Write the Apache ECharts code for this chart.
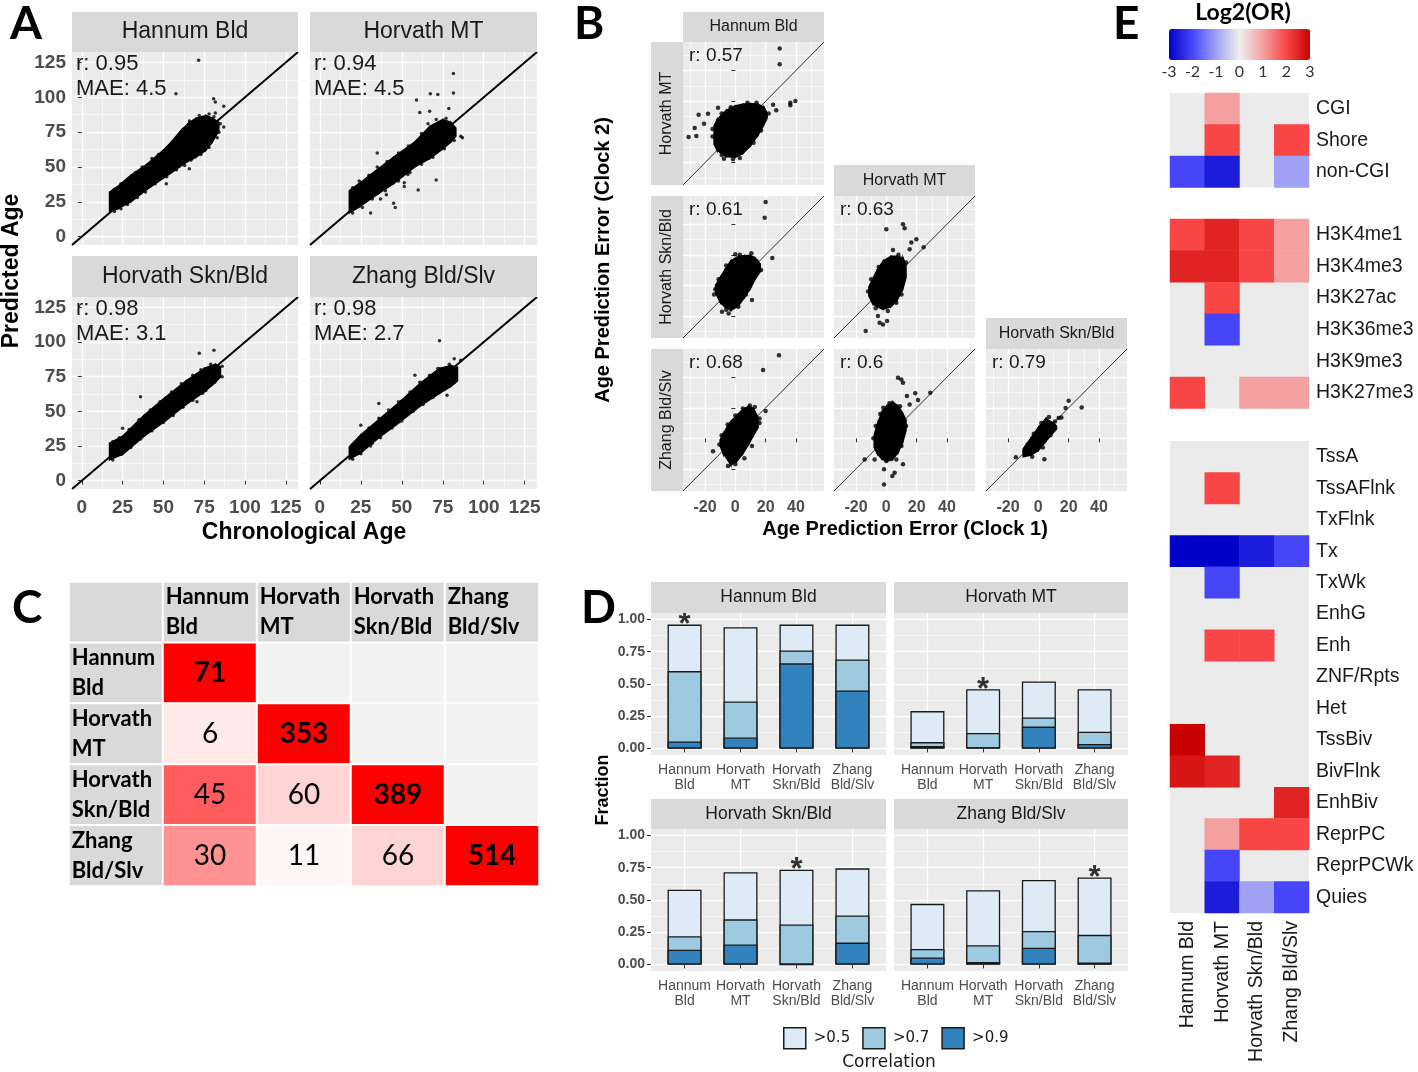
<!DOCTYPE html>
<html><head><meta charset="utf-8">
<script src="https://cdn.jsdelivr.net/npm/echarts@6/dist/echarts.min.js"></script>
<style>html,body{margin:0;padding:0;background:#fff}#c{width:1418px;height:1072px}</style>
</head><body><div id="c"></div>
<script>
// ================= DATA =================
const clocks = ['Hannum Bld','Horvath MT','Horvath Skn/Bld','Zhang Bld/Slv'];
const clocksTwoLine = ['Hannum\nBld','Horvath\nMT','Horvath\nSkn/Bld','Zhang\nBld/Slv'];

// ---- Panel A : predicted vs chronological age ----
const aTicks = [0,25,50,75,100,125];
const aR = ['0.95','0.94','0.98','0.98'];
const aMAE = ['4.5','4.5','3.1','2.7'];
// dense cloud envelope: [age, lowest predicted, highest predicted]
const aBandHannum = [[17,18,32],[22,20,36],[30,25,44],[40,34,52],[50,42,62],[55,46,68],[60,50,75],[65,54,81],[70,57,85],[76,62,87],[80,68,85],[84,76,82]];
const aBandMT     = [[18,17,33],[25,22,39],[36,31,49],[45,38,57],[58,50,68],[67,56,79],[75,63,84],[80,68,82],[83,72,78]];
const aBandSkn    = [[17,15,27],[25,19,32],[38,32,47],[51,43,60],[64,55,72],[75,64,81],[82,71,84],[85,75,82]];
const aBandZhang  = [[18,15.5,24.5],[25,20,33],[36,31,44],[49,42.5,57],[62,54.5,71],[73,63,81],[80,68,83],[84,72,82]];
// individual samples outside / at the edge of the cloud
const aPtsHannum = [[71.6,126.5],[57.7,102.6],[80.8,99],[81.8,96.6],[87,93.5],[81.8,88.7],[84.9,81],[87,78.7],[84,75],[51.8,38],[65.9,48.8],[20.5,20],
  [20,34],[24,38],[28,41],[33,46],[37,50],[43,56],[47,59],[53,64],[57,69],[62,77],[66,83],[72,87],[78,88],[81,86],
  [20,18],[24,20],[28,23],[34,28],[39,32],[45,38],[52,43],[58,48],[63,51],[67,55],[73,59],[78,64],[83,71]];
const aPtsMT = [[81.5,117],[67.4,102.6],[72,102],[81.5,103],[59,98],[78.7,92],[61,89],[67,90],[86,72],[87,71],[71,40.6],
  [35,60],[51.5,36],[60,33.4],[40.6,30],[45,24],[46,21],[31,17],[51.5,38.7],[37,27],[53.7,44.6],
  [20,35],[24,40],[30,44],[35,50],[41,54],[48,60],[54,65],[62,74],[66,81],[71,84],[77,85],
  [20,17],[26,21],[32,27],[40,33],[48,40],[55,46],[62,52],[69,57],[76,63],[82,69]];
const aPtsSkn = [[36,60.5],[72,92],[81,94],[86,82.5],[86,75],[70.6,57],[76,65],[25,37.8],
  [19,28],[23,31],[29,37],[35,44],[42,51],[48,57],[55,64],[61,70],[68,76],[73,80],[79,84],
  [19,15],[24,19],[30,24],[36,30],[43,36],[50,42],[56,47],[62,53],[68,58],[74,63],[80,70]];
const aPtsZhang = [[73,101],[36,55.7],[25,40],[58,76],[77.6,61.7],[86,86.8],[82,88],[32,27],
  [20,26],[24,31],[30,38],[36,45],[42,51],[48,57],[55,64],[61,71],[67,76],[72,81],[79,84],
  [20,15.5],[25,19.5],[31,25],[37,31],[44,38],[50,43],[57,50],[63,55],[69,60],[76,66],[82,71]];

// ---- Panel B : age prediction error, clock 1 (x) vs clock 2 (y) ----
const bTicks = [-20,0,20,40];
const bR = ['0.57','0.61','0.63','0.68','0.6','0.79'];
const bBandHanMT   = [[-14,-8,4],[-12,-12,8],[-6,-16,14],[0,-16.5,17],[5,-14,18],[10,-9,18.5],[15,-2,18],[19,5,16],[21,9,12]];
const bBandHanSkn  = [[-13,-5,0],[-10,-11,5],[-7,-14,10],[-3,-16.5,16],[2,-13.5,19],[6,-8,19.5],[10,-2,19.5],[13,4,18],[16.5,9,14]];
const bBandMTSkn   = [[-11.5,-7,-1],[-9,-12,4],[-6,-14,10],[-2,-15.7,16],[3,-14,19],[7,-10,19],[11,-2,18],[13,5,13]];
const bBandHanZh   = [[-10,-5,-1],[-8,-10,3],[-5,-14,8],[-3,-17.5,11],[1,-15,15],[5,-10,19],[9,-3.5,21],[12,2,19.5],[15,7,13.5]];
const bBandMTZh    = [[-8,-6,2],[-6,-10,9],[-3,-13.5,17],[0,-15,21],[4,-14,24],[8,-9,21],[11,-2,16],[13,5,12]];
const bBandSknZh   = [[-10,-12,-7],[-5,-11,0],[0,-8,7],[5,-2,13],[10,4,10],[12,6,8]];
const bPtsHanMT  = [[29.3,54.2],[29.3,44],[36.3,19],[39.6,20.1],[36.3,17.3],[-30.8,-3.3],[-25.7,-2.6],[-26.8,2.6],[-24.2,11.2],
  [-18,11.9],[-20.6,5.4],[-11.4,15.8],[-7.5,-17.4],[-1.5,-17.8],[24.9,17.7],[27,14.1],[-15,-3],[-15,2],[-9,-15],
  [3,-17],[12,-7],[17,1],[-9,12],[-3,16],[8,19],[14,19],[22,12]];
const bPtsHanSkn = [[20,54.6],[19.4,44.3],[24.4,17.9],[-8.8,-17.3],[-4.4,-18.4],[11,-9.6],[0,20.3],[10.6,21],[-13.2,-2.6],
  [-14,-6],[-11,4],[-6,13],[3,20],[14,16],[17,10],[7,-6],[2,-14],[-6,-16]];
const bPtsMTSkn  = [[0,36.7],[11,40],[12.1,37.3],[19.8,30.1],[16.5,28],[15.4,23.6],[24.6,25],[4.4,23.1],[-13.6,-29.9],
  [-5.5,-20.1],[-4.4,-24.5],[-2.2,-25.6],[0.5,-23.4],[6.6,-11.4],[1,-16.8],[-12,-4],[-10,4],[-5,12],[8,20],[13,15],[10,-6],[-7,-15]];
const bPtsHanZh  = [[28.8,54.4],[18.3,44.7],[20,17.9],[16,13],[-14.7,-8.5],[-4.8,-18.1],[9.6,21.5],[12.9,20.5],[-10.5,-4],
  [-9,2],[-5,9],[0,15],[5,19.5],[16,10],[11,-5],[6,-13],[0,-17]];
const bPtsMTZh   = [[7.7,39.7],[9.9,38.6],[11,36.4],[13.6,27.7],[19.1,29.5],[20.9,25.1],[15.4,22.2],[29,29.9],[-14.3,-13.8],
  [-7.7,-13.8],[0,-14.9],[6.6,-13.8],[-1.5,-20.3],[-1.5,-30.2],[4,-24.7],[5.5,-22.5],[11,-17],[4.2,22.6],[-2,20],
  [-8.5,0],[-7,8],[-4,16],[2,23],[9,21],[13,8],[10,-5]];
const bPtsSknZh  = [[20,24.6],[18,19.8],[28.6,20.2],[13.4,13.3],[15.2,13.7],[-14.8,-12.4],[4,-13.7],[-9,-9],[-7,-4],[-3,3],
  [2,10],[7,14],[11,11],[8,2],[3,-6],[-4,-12]];

// ---- Panel C : overlap of CpGs between clocks ----
const cCounts = [[71,null,null,null],[6,353,null,null],[45,60,389,null],[30,11,66,514]];

// ---- Panel D : fraction of clock CpGs above correlation thresholds ----
const dLevels = ['>0.5','>0.7','>0.9'];
const dOver05 = [[0.96,0.94,0.96,0.96],[0.29,0.46,0.52,0.46],[0.58,0.715,0.735,0.745],[0.47,0.575,0.655,0.675]];
const dOver07 = [[0.60,0.365,0.76,0.69],[0.05,0.12,0.24,0.13],[0.22,0.35,0.31,0.38],[0.12,0.15,0.26,0.23]];
const dOver09 = [[0.055,0.085,0.66,0.45],[0.02,0.01,0.17,0.035],[0.115,0.155,0.0,0.17],[0.055,0.02,0.13,0.015]];
const dStar = [0,1,2,3];
const dTicks = [0,0.25,0.5,0.75,1];

// ---- Panel E : Log2(OR) enrichment ----
const eScaleTicks = [-3,-2,-1,0,1,2,3];
const eRows1 = ['CGI','Shore','non-CGI'];
const eVals1 = [[null,1,null,null],[null,2,null,2],[-2,-2.6,null,-1]];
const eRows2 = ['H3K4me1','H3K4me3','H3K27ac','H3K36me3','H3K9me3','H3K27me3'];
const eVals2 = [[2,2.5,2,1],[2.5,2.5,2,1],[null,2,null,null],[null,-2,null,null],[null,null,null,null],[2,null,1,1]];
const eRows3 = ['TssA','TssAFlnk','TxFlnk','Tx','TxWk','EnhG','Enh','ZNF/Rpts','Het','TssBiv','BivFlnk','EnhBiv','ReprPC','ReprPCWk','Quies'];
const eVals3 = [[null,null,null,null],[null,2,null,null],[null,null,null,null],[-3,-3,-2.6,-2],[null,-2,null,null],
  [null,null,null,null],[null,2,2,null],[null,null,null,null],[null,null,null,null],[3,null,null,null],
  [2.7,2.5,null,null],[null,null,null,2.5],[null,1,2,2],[null,-2,null,null],[null,-2.6,-1,-2]];

// ================= BUILD =================
const FONT = '"Liberation Sans", Arial, sans-serif';
const CAL = 'Lato, "Open Sans", sans-serif';
const grids = [], xAxis = [], yAxis = [], series = [], graphic = [];

function addGrid(l, t, w, h, bg, show) {
  grids.push({left: l, top: t, width: w, height: h, show: show !== false, backgroundColor: bg || '#ebebeb',
    borderWidth: 0, containLabel: false, outerBoundsMode: 'none'});
  return grids.length - 1;
}
function inList(v, list) { return list.some(t => Math.abs(t - v) < 1e-6); }
function valAxis(gi, min, max, step, ticks, showLab, lab, minor) {
  return {type: 'value', gridIndex: gi, min: min, max: max, minInterval: step, maxInterval: step, splitNumber: 5,
    axisLine: {show: false},
    axisTick: {show: showLab, length: 4, lineStyle: {color: '#333', width: 1}, customValues: ticks},
    axisLabel: Object.assign({show: showLab, customValues: ticks, color: '#4d4d4d', fontFamily: FONT, hideOverlap: false}, lab),
    splitLine: {show: true, lineStyle: {color: '#fff', width: 1.3}},
    minorTick: {show: false, splitNumber: 2},
    minorSplitLine: {show: minor !== false, lineStyle: {color: '#fff', width: 0.6}}
  };
}
function txt(x, y, text, size, o) {
  o = o || {};
  graphic.push({type: 'text', x: x, y: y, rotation: o.rot || 0, silent: true, z: 50,
    style: {text: text, fontSize: size, fontFamily: o.font || FONT, fontWeight: o.bold ? 'bold' : 'normal',
      fill: o.color || '#1a1a1a', textAlign: o.align || 'left', align: o.align || 'left',
      textVerticalAlign: 'middle', verticalAlign: 'middle'}});
}
function strip(x, y, w, h, text, size, vertical) {
  graphic.push({type: 'rect', silent: true, z: 40, shape: {x: x, y: y, width: w, height: h}, style: {fill: '#d9d9d9'}});
  txt(x + w / 2, y + h / 2, text, size, {align: 'center', rot: vertical ? Math.PI / 2 : 0});
}
function bandSeries(gi, env) {
  return {type: 'custom', xAxisIndex: gi, yAxisIndex: gi, data: env, clip: true, silent: true,
    encode: {x: 0, y: [1, 2]},
    renderItem: function (params, api) {
      const i = params.dataIndex;
      if (i >= env.length - 1) return null;
      const a = env[i], b = env[i + 1];
      return {type: 'polygon',
        shape: {points: [api.coord([a[0], a[1]]), api.coord([b[0], b[1]]), api.coord([b[0], b[2]]), api.coord([a[0], a[2]])]},
        style: {fill: '#000', stroke: '#000', lineWidth: 1.5}};
    }};
}

// ---- Panel A ----
const aMin = -6, aMax = 132.5;
const aBands = [aBandHannum, aBandMT, aBandSkn, aBandZhang];
const aPts = [aPtsHannum, aPtsMT, aPtsSkn, aPtsZhang];
const aPos = [[72,52,226,193],[310,52,227,193],[72,297,226,192],[310,297,227,192]];
const aStripTop = [12, 12, 256, 256];
aPos.forEach((p, i) => {
  const gi = addGrid(p[0], p[1], p[2], p[3]);
  const bottom = i >= 2, left = i % 2 === 0;
  const fmt = v => inList(v, aTicks) ? String(Math.round(v)) : '';
  xAxis.push(valAxis(gi, aMin, aMax, 25, aTicks, bottom, {fontSize: 19, fontWeight: 'bold', margin: 9, formatter: fmt}));
  yAxis.push(valAxis(gi, aMin, aMax, 25, aTicks, left, {fontSize: 19, fontWeight: 'bold', margin: 6, formatter: fmt}));
  series.push(bandSeries(gi, aBands[i]));
  series.push({type: 'scatter', xAxisIndex: gi, yAxisIndex: gi, data: aPts[i], symbolSize: 3.5, silent: true,
    itemStyle: {color: '#000'}});
  series.push({type: 'line', xAxisIndex: gi, yAxisIndex: gi, data: [[aMin, aMin], [aMax, aMax]], symbol: 'none', silent: true,
    lineStyle: {color: '#000', width: 2}});
  strip(p[0], aStripTop[i], p[2], p[1] - aStripTop[i], clocks[i], 23);
  txt(p[0] + 4, p[1] + 12, 'r: ' + aR[i], 22);
  txt(p[0] + 4, p[1] + 37, 'MAE: ' + aMAE[i], 22);
});
txt(12, 271, 'Predicted Age', 23, {bold: true, align: 'center', rot: Math.PI / 2, color: '#000'});
txt(304, 533, 'Chronological Age', 23, {bold: true, align: 'center', color: '#000'});

// ---- Panel B ----
const bMin = -34.5, bMax = 58.5;
const bColX = [683, 834, 986], bRowY = [42, 196, 349], bRowH = [143, 142, 142];
const bPanels = [{c:0,r:0},{c:0,r:1},{c:1,r:1},{c:0,r:2},{c:1,r:2},{c:2,r:2}];
const bBands = [bBandHanMT, bBandHanSkn, bBandMTSkn, bBandHanZh, bBandMTZh, bBandSknZh];
const bPts = [bPtsHanMT, bPtsHanSkn, bPtsMTSkn, bPtsHanZh, bPtsMTZh, bPtsSknZh];
bPanels.forEach((p, i) => {
  const gi = addGrid(bColX[p.c], bRowY[p.r], 141, bRowH[p.r]);
  const fmt = v => inList(v, bTicks) ? String(Math.round(v)) : '';
  xAxis.push(valAxis(gi, bMin, bMax, 20, bTicks, p.r === 2, {fontSize: 16, fontWeight: 'bold', margin: 9, formatter: fmt}));
  yAxis.push(valAxis(gi, bMin, bMax, 20, bTicks, p.c === 0, {fontSize: 16, fontWeight: 'bold', margin: 6, formatter: fmt}));
  series.push(bandSeries(gi, bBands[i]));
  series.push({type: 'scatter', xAxisIndex: gi, yAxisIndex: gi, data: bPts[i], symbolSize: 4.5, silent: true,
    itemStyle: {color: '#000'}});
  series.push({type: 'line', xAxisIndex: gi, yAxisIndex: gi, data: [[bMin, bMin], [bMax, bMax]], symbol: 'none', silent: true,
    lineStyle: {color: '#000', width: 0.8}});
  txt(bColX[p.c] + 6, bRowY[p.r] + 14, 'r: ' + bR[i], 19);
});
strip(683, 12, 141, 30, clocks[0], 16);
strip(834, 165, 141, 31, clocks[1], 16);
strip(986, 318, 141, 31, clocks[2], 16);
strip(651, 42, 32, 143, clocks[1], 16, true);
strip(651, 196, 32, 142, clocks[2], 16, true);
strip(651, 349, 32, 142, clocks[3], 16, true);
txt(603, 260, 'Age Prediction Error (Clock 2)', 20, {bold: true, align: 'center', rot: Math.PI / 2, color: '#000'});
txt(905, 529, 'Age Prediction Error (Clock 1)', 20, {bold: true, align: 'center', color: '#000'});

// ---- Panel C ----
(function () {
  const gi = addGrid(69, 582, 470, 304, '#fff');
  const cats = ['0','1','2','3','4'];
  xAxis.push({type: 'category', gridIndex: gi, data: cats, show: false});
  yAxis.push({type: 'category', gridIndex: gi, data: cats, show: false, inverse: true});
  const data = [];
  const head = {show: true, position: 'insideLeft', distance: 4, align: 'left', fontSize: 22, fontWeight: 'bold',
    lineHeight: 30, fontFamily: CAL, color: '#000'};
  data.push({value: [0, 0, 0], itemStyle: {color: '#d9d9d9'}, label: {show: false}});
  clocksTwoLine.forEach((n, j) => {
    data.push({value: [j + 1, 0, 0], itemStyle: {color: '#d9d9d9'}, label: Object.assign({formatter: n}, head)});
    data.push({value: [0, j + 1, 0], itemStyle: {color: '#d9d9d9'}, label: Object.assign({formatter: n}, head)});
  });
  cCounts.forEach((row, i) => row.forEach((v, j) => {
    if (v == null) { data.push({value: [j + 1, i + 1, 0], itemStyle: {color: '#f2f2f2'}, label: {show: false}}); return; }
    let color;
    if (i === j) color = '#ff0000';
    else {
      const s = v / Math.min(cCounts[i][i], cCounts[j][j]);
      const g = Math.round(255 * (1 - s));
      color = 'rgb(255,' + g + ',' + g + ')';
    }
    data.push({value: [j + 1, i + 1, v], itemStyle: {color: color},
      label: {show: true, formatter: String(v), fontSize: 28, fontWeight: i === j ? 'bold' : 'normal', fontFamily: CAL, color: '#000'}});
  }));
  series.push({type: 'heatmap', xAxisIndex: gi, yAxisIndex: gi, data: data, silent: true,
    itemStyle: {borderColor: '#fff', borderWidth: 2}, emphasis: {disabled: true}});
})();

// ---- Panel D ----
const dColX = [651, 894], dColW = [235, 234], dRowY = [613, 829], dStripY = [582, 799];
const dVals = [dOver05, dOver07, dOver09];
const dColors = ['#deebf7', '#9ecae1', '#3182bd'];
for (let f = 0; f < 4; f++) {
  const c = f % 2, r = Math.floor(f / 2);
  const gi = addGrid(dColX[c], dRowY[r], dColW[c], 142);
  xAxis.push(valAxis(gi, 0.4, 4.6, 1, [1,2,3,4], true,
    {fontSize: 14, margin: 8, lineHeight: 15, formatter: v => inList(v, [1,2,3,4]) ? clocksTwoLine[Math.round(v) - 1] : ''}, false));
  yAxis.push(valAxis(gi, -0.05, 1.05, 0.25, dTicks, c === 0,
    {fontSize: 14, fontWeight: 'bold', margin: 6, formatter: v => inList(v, dTicks) ? v.toFixed(2) : ''}));
  dVals.forEach((arr, k) => {
    series.push({type: 'bar', name: dLevels[k], xAxisIndex: gi, yAxisIndex: gi, barWidth: 34, barGap: '-100%',
      data: arr[f].map((v, j) => [j + 1, v]), silent: true,
      itemStyle: {color: dColors[k], borderColor: '#1a1a1a', borderWidth: 1.3}});
  });
  series.push({type: 'scatter', xAxisIndex: gi, yAxisIndex: gi, symbolSize: 1, silent: true, z: 5,
    data: [[dStar[f] + 1, dOver05[f][dStar[f]]]], itemStyle: {color: 'rgba(0,0,0,0)'},
    label: {show: true, formatter: '*', position: 'top', distance: -17, fontSize: 31, fontWeight: 'bold', color: '#000', fontFamily: FONT}});
  strip(dColX[c], dStripY[r], dColW[c], dRowY[r] - dStripY[r], clocks[f], 17.5);
}
txt(603, 790, 'Fraction', 18, {bold: true, align: 'center', rot: Math.PI / 2, color: '#000'});
txt(889, 1063, 'Correlation', 17, {align: 'center', font: '"DejaVu Sans", sans-serif', color: '#1a1a1a'});

// ---- Panel E ----
const eSeriesIdx = [];
const eGroups = [[eRows1, eVals1, 93, 94.5], [eRows2, eVals2, 219, 189.5], [eRows3, eVals3, 441, 472]];
eGroups.forEach((g, k) => {
  const gi = addGrid(1170, g[2], 139, g[3]);
  const last = k === eGroups.length - 1;
  xAxis.push({type: 'category', gridIndex: gi, data: clocks, axisLine: {show: false}, axisTick: {show: false},
    splitLine: {show: false},
    axisLabel: {show: last, rotate: 90, fontSize: 19.5, margin: 8, color: '#1a1a1a', fontFamily: FONT, interval: 0}});
  yAxis.push({type: 'category', gridIndex: gi, data: g[0], inverse: true, position: 'right', axisLine: {show: false},
    axisTick: {show: false}, splitLine: {show: false},
    axisLabel: {fontSize: 19.5, margin: 7, color: '#1a1a1a', fontFamily: FONT, interval: 0}});
  const data = [];
  g[1].forEach((row, i) => row.forEach((v, j) => { if (v != null) data.push([j, i, v]); }));
  eSeriesIdx.push(series.length);
  series.push({type: 'heatmap', xAxisIndex: gi, yAxisIndex: gi, data: data, silent: true, emphasis: {disabled: true}});
});
(function () {
  const gi = addGrid(1169, 29, 141, 31, '#fff', false);
  xAxis.push({type: 'value', gridIndex: gi, min: -3, max: 3, interval: 1, axisLine: {show: false},
    axisTick: {show: true, inside: true, length: 5, lineStyle: {color: '#fff', width: 1}}, splitLine: {show: false},
    axisLabel: {fontSize: 16, margin: 4, color: '#333', fontFamily: CAL, formatter: v => inList(v, eScaleTicks) ? String(v) : ''}});
  yAxis.push({type: 'value', gridIndex: gi, show: false});
})();
txt(1243, 13, 'Log2(OR)', 23, {bold: true, align: 'center', font: CAL, color: '#000'});

// ---- panel letters ----
txt(10, 24, 'A', 46, {bold: true, font: CAL, color: '#000'});
txt(574, 24, 'B', 46, {bold: true, font: CAL, color: '#000'});
txt(12, 608, 'C', 46, {bold: true, font: CAL, color: '#000'});
txt(581, 608, 'D', 46, {bold: true, font: CAL, color: '#000'});
txt(1113, 24, 'E', 46, {bold: true, font: CAL, color: '#000'});

const chart = echarts.init(document.getElementById('c'), null, {renderer: 'canvas'});
chart.setOption({
  animation: false,
  backgroundColor: '#fff',
  textStyle: {fontFamily: FONT},
  grid: grids, xAxis: xAxis, yAxis: yAxis, series: series, graphic: graphic,
  legend: {data: dLevels, left: 783, top: 1027, itemWidth: 22, itemHeight: 21, itemGap: 12, padding: 0,
    icon: 'rect', selectedMode: false, itemStyle: {borderColor: '#1a1a1a', borderWidth: 1.5},
    textStyle: {fontFamily: '"DejaVu Sans", sans-serif', fontSize: 15, color: '#1a1a1a', padding: [0, 0, 0, 3]}},
  visualMap: {type: 'continuous', min: -3, max: 3, orient: 'horizontal', left: 1169, top: 29, itemWidth: 31, itemHeight: 141,
    calculable: false, padding: 0, seriesIndex: eSeriesIdx, dimension: 2, hoverLink: false,
    inRange: {color: ['#0000c8','#4646f8','#a0a0f4','#f0f0f0','#f4a0a0','#f84646','#c80000']}}
});
</script></body></html>
